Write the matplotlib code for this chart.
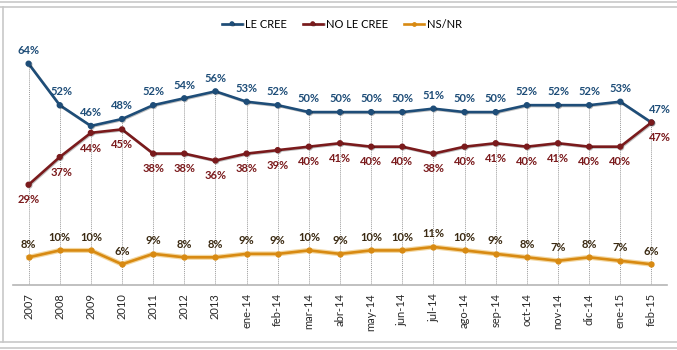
import matplotlib
matplotlib.use("Agg")
import matplotlib.pyplot as plt
import matplotlib.patheffects as pe
from matplotlib.lines import Line2D
import numpy as np

categories = ["2007", "2008", "2009", "2010", "2011", "2012", "2013", "ene-14", "feb-14",
              "mar-14", "abr-14", "may-14", "jun-14", "jul-14", "ago-14", "sep-14", "oct-14",
              "nov-14", "dic-14", "ene-15", "feb-15"]
le_cree = [64, 52, 46, 48, 52, 54, 56, 53, 52, 50, 50, 50, 50, 51, 50, 50, 52, 52, 52, 53, 47]
no_le_cree = [29, 37, 44, 45, 38, 38, 36, 38, 39, 40, 41, 40, 40, 38, 40, 41, 40, 41, 40, 40, 47]
ns_nr = [8, 10, 10, 6, 9, 8, 8, 9, 9, 10, 9, 10, 10, 11, 10, 9, 8, 7, 8, 7, 6]

plt.rcParams['font.family'] = ['Lato', 'DejaVu Sans']

W, H = 677, 350
fig = plt.figure(figsize=(W / 100, H / 100), dpi=100)
fig.patch.set_facecolor("white")

def hline(ypx, x0=0, x1=W, c="#c8c8c8", lw=1.2):
    fig.add_artist(Line2D([x0 / W, x1 / W], [1 - ypx / H, 1 - ypx / H],
                          transform=fig.transFigure, color=c, lw=lw))

def vline(xpx, y0, y1, c="#c8c8c8", lw=1.2):
    fig.add_artist(Line2D([xpx / W, xpx / W], [1 - y0 / H, 1 - y1 / H],
                          transform=fig.transFigure, color=c, lw=lw))

# frame
hline(1.5)
hline(7)
hline(342)
hline(347.5)
vline(3, 7, 342)

left, right = 13, 667
bottom_px, top_px = 285, 36
ax = fig.add_axes([left / W, 1 - bottom_px / H, (right - left) / W, (bottom_px - top_px) / H])
x = np.arange(len(categories))
ax.set_xlim(-0.5, len(categories) - 0.5)
ax.set_ylim(0, 72)

c_blue = "#1e4d78"
c_red = "#7a1a1c"
c_orange = "#d88a12"

tops = np.maximum(np.maximum(le_cree, no_le_cree), ns_nr)
ax.vlines(x, 0, tops, colors="#9a9a9a", linestyles=(0, (1, 1)), lw=0.7, zorder=1)

shadow = [pe.SimpleLineShadow(offset=(0.6, -0.6), alpha=0.25), pe.Normal()]
ax.plot(x, le_cree, color=c_blue, lw=1.9, marker="o", ms=3.5, label="LE CREE",
        path_effects=shadow, zorder=3)
ax.plot(x, no_le_cree, color=c_red, lw=1.9, marker="o", ms=3.5, label="NO LE CREE",
        path_effects=shadow, zorder=3)
ax.plot(x, ns_nr, color="#f3d7a0", lw=3.6, zorder=2)
ax.plot(x, ns_nr, color=c_orange, lw=1.9, marker="o", ms=3.5, label="NS/NR", zorder=3)

fs = 8
for i in range(len(categories)):
    dx = 6 if i == len(categories) - 1 else 0
    ax.annotate(f"{le_cree[i]}%", (x[i], le_cree[i]), xytext=(dx + (1.5 if i == 1 else 0), 9.5),
                textcoords="offset points",
                ha="center", va="center", fontsize=fs, fontweight="bold", color=c_blue)
    ax.annotate(f"{no_le_cree[i]}%", (x[i], no_le_cree[i]), xytext=(dx + (1 if i == 1 else 0), -11),
                textcoords="offset points",
                ha="center", va="center", fontsize=fs, fontweight="bold", color=c_red)
    ax.annotate(f"{ns_nr[i]}%", (x[i], ns_nr[i]), xytext=(0, 9.5), textcoords="offset points",
                ha="center", va="center", fontsize=fs, fontweight="bold", color="#3b2a12")

ax.set_xticks(x)
ax.set_xticklabels(categories, rotation=90, fontsize=8, color="#2a2a2a")
ax.tick_params(axis="x", length=0, pad=6)
ax.set_yticks([])
for s in ["top", "right", "left"]:
    ax.spines[s].set_visible(False)
ax.spines["bottom"].set_color("#b5b5b5")
ax.spines["bottom"].set_linewidth(1.2)
ax.patch.set_alpha(0)

fig.legend(loc="center", bbox_to_anchor=(342 / W, 1 - 24 / H), ncol=3, frameon=False,
           fontsize=8, handlelength=1.8, columnspacing=1.4, handletextpad=0.3,
           markerscale=0.7)

fig.savefig("out.png", dpi=100)
